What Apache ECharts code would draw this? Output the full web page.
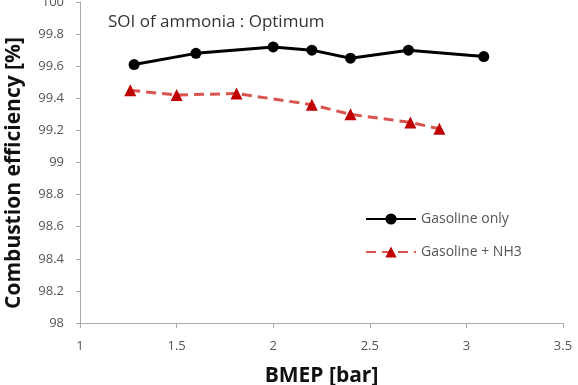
<!DOCTYPE html>
<html>
<head>
<meta charset="utf-8">
<script src="https://cdn.jsdelivr.net/npm/echarts@6/dist/echarts.min.js"></script>
<style>
  html, body { margin: 0; padding: 0; background: #fff; }
</style>
</head>
<body>
<div id="myChart" style="width: 578px; height: 385px;"></div>
<script>
  // data
  const gasolineX = [1.28, 1.6, 2.0, 2.2, 2.4, 2.7, 3.09];
  const gasolineY = [99.61, 99.68, 99.72, 99.70, 99.65, 99.70, 99.66];
  const nh3X = [1.26, 1.5, 1.81, 2.2, 2.4, 2.71, 2.86];
  const nh3Y = [99.45, 99.42, 99.43, 99.36, 99.30, 99.25, 99.21];
  const seriesNames = ['Gasoline only', 'Gasoline + NH3'];

  const pair = (xs, ys) => xs.map((x, i) => [x, ys[i]]);
  const font = '"Open Sans", "Liberation Sans", sans-serif';

  let myChart = echarts.init(document.getElementById('myChart'));

  myChart.setOption({
    backgroundColor: '#fff',
    animation: false,
    textStyle: { fontFamily: font },
    grid: {
      left: 80,
      right: 15,
      top: 2,
      bottom: 62,
      containLabel: false,
      outerBoundsMode: 'none'
    },
    graphic: [
      {
        type: 'text',
        left: 108,
        top: 14,
        style: {
          text: 'SOI of ammonia : Optimum',
          fontSize: 17,
          fontFamily: font,
          fill: '#333'
        }
      },
      {
        // y axis title, sits a bit below the plot centre like the original
        type: 'text',
        x: 14,
        y: 173,
        rotation: Math.PI / 2,
        style: {
          text: 'Combustion efficiency [%]',
          fontSize: 21,
          fontWeight: 'bold',
          fontFamily: font,
          fill: '#111',
          align: 'center',
          verticalAlign: 'middle'
        }
      }
    ],
    legend: {
      orient: 'vertical',
      left: 360,
      top: 207,
      itemWidth: 50,
      itemHeight: 14,
      itemGap: 19,
      data: seriesNames,
      textStyle: { fontSize: 14, color: '#555', fontFamily: font }
    },
    xAxis: {
      type: 'value',
      min: 1,
      max: 3.5,
      interval: 0.5,
      name: 'BMEP [bar]',
      nameLocation: 'middle',
      nameGap: 43,
      nameTextStyle: { fontSize: 21, fontWeight: 'bold', color: '#111' },
      splitLine: { show: false },
      axisLine: { lineStyle: { color: '#aaa' } },
      axisTick: { show: true, inside: false, length: 5, lineStyle: { color: '#aaa' } },
      axisLabel: { fontSize: 13, color: '#555', margin: 17 }
    },
    yAxis: {
      type: 'value',
      min: 98,
      max: 100,
      interval: 0.2,
      splitLine: { show: false },
      axisLine: { show: true, lineStyle: { color: '#aaa' } },
      axisTick: { show: true, inside: false, length: 4, lineStyle: { color: '#aaa' } },
      axisLabel: {
        fontSize: 13,
        color: '#555',
        margin: 16,
        formatter: function (v) {
          return String(Math.round(v * 10) / 10);
        }
      }
    },
    series: [
      {
        name: seriesNames[0],
        type: 'line',
        data: pair(gasolineX, gasolineY),
        symbol: 'circle',
        symbolSize: 11,
        itemStyle: { color: '#000' },
        lineStyle: { color: '#000', width: 3 }
      },
      {
        name: seriesNames[1],
        type: 'line',
        data: pair(nh3X, nh3Y),
        symbol: 'triangle',
        symbolSize: 12,
        itemStyle: { color: '#c00000' },
        lineStyle: { color: '#d9534f', width: 3, type: [10, 6] }
      }
    ]
  });
</script>
</body>
</html>
